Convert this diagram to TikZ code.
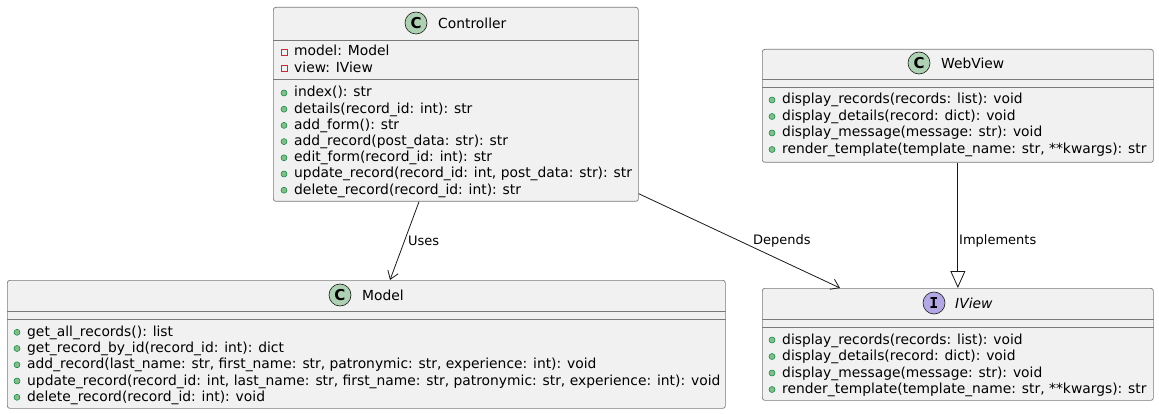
\documentclass[tikz,border=0pt]{standalone}
\usepackage{fontspec}
\setmainfont{DejaVu Sans}
\newfontfamily\monobold{DejaVu Sans Mono}[BoldFont={* Bold}]
\usetikzlibrary{arrows.meta}
\definecolor{boxfill}{HTML}{F1F1F1}
\definecolor{boxline}{HTML}{7A7A7A}
\definecolor{edgeline}{HTML}{181818}
\definecolor{cfill}{HTML}{ADD1B2}
\definecolor{ifill}{HTML}{B4A7E5}
\definecolor{pubfill}{HTML}{84BE84}
\definecolor{publine}{HTML}{038048}
\definecolor{privline}{HTML}{C82930}
\newcommand\pubmember[3]{%
  \filldraw[fill=pubfill,draw=publine,line width=0.5pt] ({#1-10},{#2-4}) circle (3);
  \node[member] at (#1,#2) {#3};}
\newcommand\privmember[3]{%
  \draw[draw=privline,line width=0.7pt] ({#1-13},{#2-7}) rectangle ({#1-7},{#2-1});
  \node[member] at (#1,#2) {#3};}
\begin{document}
\begin{tikzpicture}[x=1pt,y=-1pt,
  font=\fontsize{13.85}{16}\selectfont,
  classbox/.style 2 args={draw=boxline, fill=boxfill, line width=0.7pt,
    rounded corners=2.5pt, anchor=north west, inner sep=0,
    minimum width=#1, minimum height=#2},
  sepline/.style={draw=boxline, line width=0.7pt},
  member/.style={anchor=base west, inner sep=0, text=black},
  title/.style={anchor=base west, inner sep=0, text=black},
  badge/.style={circle, draw=edgeline, line width=0.6pt, minimum size=22pt, inner sep=0},
  conn/.style={draw=edgeline, line width=0.8pt},
  elabel/.style={anchor=west, inner sep=0, font=\fontsize{13}{15}\selectfont},
  usesarrow/.style={conn, -{Straight Barb[length=8pt,width=11pt,line width=0.8pt]}},
  implarrow/.style={conn, -{Triangle[open,length=17pt,width=15pt,line width=0.8pt,fill=white]}}
]
\useasboundingbox (0,0) rectangle (1159,414);

% ---------- Controller ----------
\node[classbox={365pt}{194pt}] (ctrl) at (273,7) {};
\draw[sepline] (ctrl.west |- 0,40) -- (ctrl.east |- 0,40);
\draw[sepline] (ctrl.west |- 0,79) -- (ctrl.east |- 0,79);
\node[badge, fill=cfill] (ctrlbadge) at (416,23) {\bfseries\fontsize{15}{15}\selectfont C};
\node[title] (ctrltitle) at (438,28.3) {Controller};
\privmember{294}{56}{model: Model}
\privmember{294}{72.2}{view: IView}
\pubmember{294}{97}{index(): str}
\pubmember{294}{113.2}{details(record\_id: int): str}
\pubmember{294}{129.4}{add\_form(): str}
\pubmember{294}{145.6}{add\_record(post\_data: str): str}
\pubmember{294}{161.8}{edit\_form(record\_id: int): str}
\pubmember{294}{178}{update\_record(record\_id: int, post\_data: str): str}
\pubmember{294}{194.2}{delete\_record(record\_id: int): str}

% ---------- WebView ----------
\node[classbox={391pt}{113pt}] (webview) at (762,49) {};
\draw[sepline] (webview.west |- 0,79) -- (webview.east |- 0,79);
\draw[sepline] (webview.west |- 0,87) -- (webview.east |- 0,87);
\node[badge, fill=cfill] (webbadge) at (919,63) {\bfseries\fontsize{15}{15}\selectfont C};
\node[title] (webtitle) at (941,69) {WebView};
\pubmember{782}{104}{display\_records(records: list): void}
\pubmember{782}{120.5}{display\_details(record: dict): void}
\pubmember{782}{137}{display\_message(message: str): void}
\pubmember{782}{153.5}{render\_template(template\_name: str, **kwargs): str}

% ---------- Model ----------
\node[classbox={718pt}{128pt}] (model) at (7,280) {};
\draw[sepline] (model.west |- 0,311) -- (model.east |- 0,311);
\draw[sepline] (model.west |- 0,319) -- (model.east |- 0,319);
\node[badge, fill=cfill] (modelbadge) at (340,295) {\bfseries\fontsize{15}{15}\selectfont C};
\node[title] (modeltitle) at (362,300.3) {Model};
\pubmember{27}{336.3}{get\_all\_records(): list}
\pubmember{27}{352.5}{get\_record\_by\_id(record\_id: int): dict}
\pubmember{27}{368.8}{add\_record(last\_name: str, first\_name: str, patronymic: str, experience: int): void}
\pubmember{27}{385}{update\_record(record\_id: int, last\_name: str, first\_name: str, patronymic: str, experience: int): void}
\pubmember{27}{401.3}{delete\_record(record\_id: int): void}

% ---------- IView ----------
\node[classbox={391pt}{112pt}] (iview) at (762,288) {};
\draw[sepline] (iview.west |- 0,319) -- (iview.east |- 0,319);
\draw[sepline] (iview.west |- 0,327) -- (iview.east |- 0,327);
\node[badge, fill=ifill] (ibadge) at (934,303) {\monobold\bfseries\fontsize{15}{15}\selectfont I};
\node[title] (ititle) at (955,308.3) {\itshape IView};
\pubmember{782}{344}{display\_records(records: list): void}
\pubmember{782}{360.5}{display\_details(record: dict): void}
\pubmember{782}{377}{display\_message(message: str): void}
\pubmember{782}{393.5}{render\_template(template\_name: str, **kwargs): str}

% ---------- Connectors ----------
\draw[usesarrow] ([xshift=146pt]ctrl.south west) -- ([xshift=383pt]model.north west);
\node[elabel] (useslabel) at (408,240.7) {Uses};
\draw[usesarrow] ([yshift=8pt]ctrl.south east) -- ([xshift=78pt]iview.north west);
\node[elabel] (depslabel) at (753,240.7) {Depends};
\draw[implarrow] (webview.south) -- (iview.north);
\node[elabel] (impllabel) at (959,240.7) {Implements};
\end{tikzpicture}
\end{document}
